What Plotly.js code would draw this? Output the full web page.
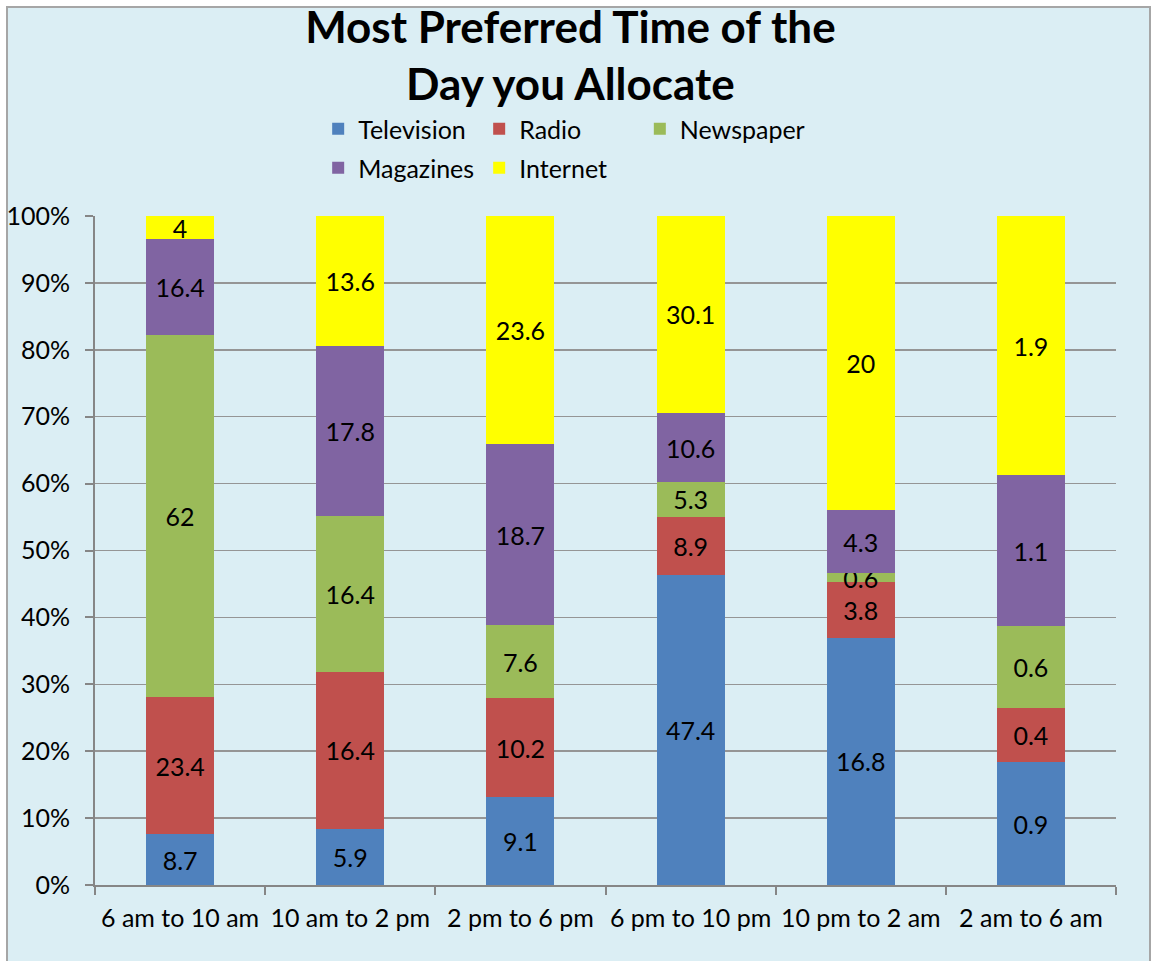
<!DOCTYPE html>
<html>
<head>
<meta charset="utf-8">
<script src="https://cdn.plot.ly/plotly-3.0.1.min.js"></script>
<style>
  html, body { margin: 0; padding: 0; background: #ffffff; }
  #bg { position: absolute; left: 6px; top: 6px; width: 1141px; height: 970px;
        background: #DBEEF4; border: 2px solid #A6A6A6; }
  #chart { position: absolute; left: 0; top: 0; width: 1157px; height: 961px; }
</style>
</head>
<body>
<div id="bg"></div>
<div id="chart"></div>
<script>
const categories = ["6 am to 10 am", "10 am to 2 pm", "2 pm to 6 pm", "6 pm to 10 pm", "10 pm to 2 am", "2 am to 6 am"];
const television = [8.7, 5.9, 9.1, 47.4, 16.8, 0.9];
const radio      = [23.4, 16.4, 10.2, 8.9, 3.8, 0.4];
const newspaper  = [62, 16.4, 7.6, 5.3, 0.6, 0.6];
const magazines  = [16.4, 17.8, 18.7, 10.6, 4.3, 1.1];
const internet   = [4, 13.6, 23.6, 30.1, 20, 1.9];
const yTickVals  = [0, 10, 20, 30, 40, 50, 60, 70, 80, 90, 100];
const yTickText  = ["0%", "10%", "20%", "30%", "40%", "50%", "60%", "70%", "80%", "90%", "100%"];

const FONT = "Lato, 'Open Sans', sans-serif";
function mk(name, vals, color, legend) {
  return {
    type: "bar", name: name, x: categories, y: vals,
    text: vals.map(String), texttemplate: "%{text}",
    textposition: "inside", insidetextanchor: "middle", textangle: 0,
    constraintext: "none",
    insidetextfont: { family: FONT, size: 25, color: "#000000" },
    marker: { color: color, line: { width: 0 } },
    legend: legend, hoverinfo: "none", cliponaxis: false
  };
}
const data = [
  mk("Television", television, "#4F81BD", "legend"),
  mk("Radio", radio, "#C0504D", "legend"),
  mk("Newspaper", newspaper, "#9BBB59", "legend3"),
  mk("Magazines", magazines, "#8064A2", "legend2"),
  mk("Internet", internet, "#FFFF00", "legend2")
];
const legendCommon = {
  orientation: "h", xref: "container", yref: "container",
  xanchor: "left", yanchor: "middle",
  font: { family: FONT, size: 25, color: "#000000" },
  bgcolor: "rgba(0,0,0,0)", entrywidthmode: "pixels", entrywidth: 116,
  traceorder: "normal"
};
const layout = {
  width: 1157, height: 961,
  paper_bgcolor: "rgba(0,0,0,0)", plot_bgcolor: "rgba(0,0,0,0)",
  margin: { l: 95, r: 41, t: 216, b: 76, pad: 0 },
  barmode: "stack", barnorm: "percent", bargap: 0.6,
  title: {
    text: "<b>Most Preferred Time of the<br>Day you Allocate</b>",
    font: { family: FONT, size: 44, color: "#000000" },
    xref: "container", x: 0.493, xanchor: "center",
    yref: "container", y: 0.955, yanchor: "top"
  },
  showlegend: true,
  legend: Object.assign({}, legendCommon, { x: 0.275, y: 1 - 129 / 961 }),
  legend3: Object.assign({}, legendCommon, { x: 0.553, y: 1 - 129 / 961, entrywidth: 140 }),
  legend2: Object.assign({}, legendCommon, { x: 0.275, y: 1 - 168 / 961 }),
  xaxis: {
    type: "category", tickson: "boundaries", ticks: "outside", ticklen: 8,
    tickcolor: "#868686", tickwidth: 2, ticklabelstandoff: 10, tickangle: 0,
    showline: true, linecolor: "#868686", linewidth: 2,
    tickfont: { family: FONT, size: 25, color: "#000000" },
    showgrid: false, fixedrange: true
  },
  yaxis: {
    range: [0, 100.001], tickmode: "array", tickvals: yTickVals, ticktext: yTickText,
    ticks: "outside", ticklen: 8, tickcolor: "#868686", tickwidth: 2,
    ticklabelstandoff: 10,
    showline: true, linecolor: "#868686", linewidth: 2,
    showgrid: true, gridcolor: "#959595", gridwidth: 1.5,
    zeroline: false,
    tickfont: { family: FONT, size: 25, color: "#000000" },
    fixedrange: true
  }
};
Plotly.newPlot("chart", data, layout, { displayModeBar: false, staticPlot: true });
</script>
</body>
</html>
